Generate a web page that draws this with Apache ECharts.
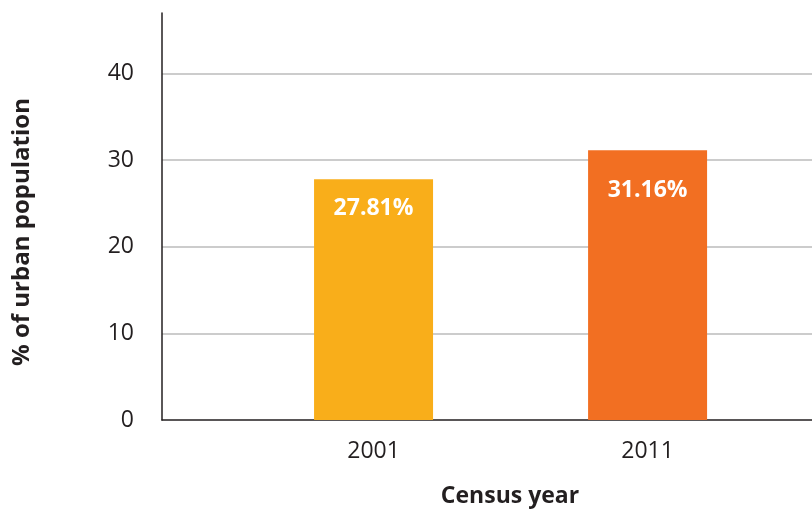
<!DOCTYPE html>
<html>
<head>
<meta charset="utf-8">
<script src="https://cdn.jsdelivr.net/npm/echarts@6/dist/echarts.min.js"></script>
<style>html,body{margin:0;padding:0;background:#fff}#c{width:812px;height:512px}</style>
</head>
<body>
<div id="c"></div>
<script>
const years = ['2001', '2011'];
const urbanShare = [27.81, 31.16];
const barColors = ['#F9AE1A', '#F26F22'];
const yTicks = [0, 10, 20, 30, 40];
const xTitle = 'Census year';
const yTitle = '% of urban population';

const chart = echarts.init(document.getElementById('c'));
const labelDist = [18, 29];
chart.setOption({
  animation: false,
  grid: { left: 162, right: 0, top: 13, bottom: 92, containLabel: false },
  xAxis: {
    type: 'value', min: 1993.28, max: 2017,
    axisLine: { show: true, lineStyle: { color: '#231f20', width: 1.5 } },
    axisTick: { show: false },
    splitLine: { show: false },
    axisLabel: {
      customValues: years.map(Number),
      formatter: v => String(v),
      fontSize: 23, color: '#231f20', margin: 20, fontFamily: 'Open Sans'
    }
  },
  yAxis: {
    type: 'value', min: 0, max: 47, interval: 10,
    axisLine: { show: true, lineStyle: { color: '#231f20', width: 1.5 } },
    axisTick: { show: false },
    splitLine: { show: true, showMaxLine: false, showMinLine: false, lineStyle: { color: '#bbbbbb', width: 1.5 } },
    axisLabel: {
      customValues: yTicks,
      fontSize: 23, color: '#231f20', margin: 28, fontFamily: 'Open Sans'
    }
  },
  series: [{
    type: 'bar',
    barWidth: 119,
    data: years.map((y, i) => ({
      value: [Number(y), urbanShare[i]],
      itemStyle: { color: barColors[i] },
      label: { distance: labelDist[i] }
    })),
    label: {
      show: true, position: 'insideTop',
      formatter: p => p.value[1].toFixed(2) + '%',
      color: '#fff', fontSize: 23, fontWeight: 'bold', fontFamily: 'Open Sans'
    }
  }],
  graphic: [
    { type: 'text', x: 510, y: 496, style: { text: xTitle, textAlign: 'center', textVerticalAlign: 'middle', fontSize: 23, fontWeight: 'bold', fontFamily: 'Open Sans', fill: '#231f20' } },
    { type: 'text', x: 22, y: 232, rotation: Math.PI / 2, style: { text: yTitle, textAlign: 'center', textVerticalAlign: 'middle', fontSize: 24, fontWeight: 'bold', fontFamily: 'Open Sans', fill: '#231f20' } }
  ]
});
</script>
</body>
</html>
